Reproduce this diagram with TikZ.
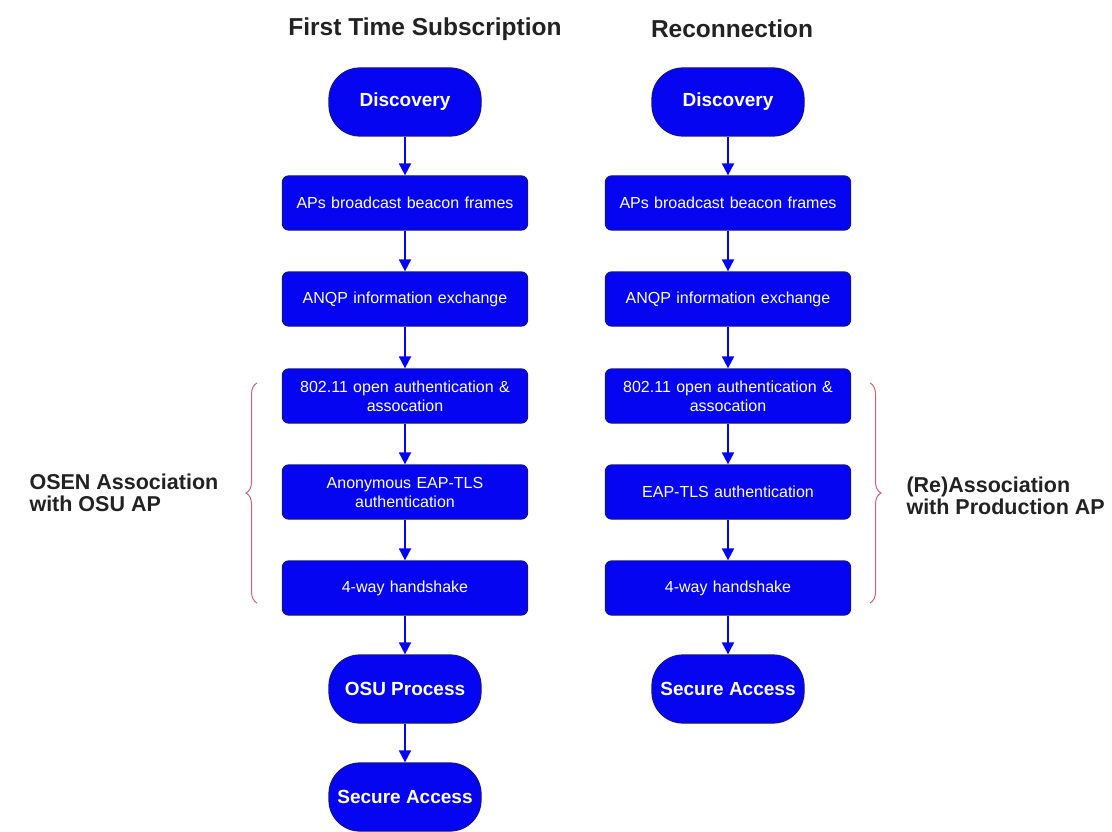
\documentclass[tikz,border=0pt]{standalone}
\usepackage{fontspec}
\setmainfont{Liberation Sans}
\usetikzlibrary{arrows.meta,decorations.pathreplacing}
\definecolor{flowblue}{HTML}{0505F2}
\definecolor{flowedge}{HTML}{10109A}
\definecolor{bracecol}{HTML}{D0607A}
\definecolor{titlegray}{HTML}{222222}
\begin{document}
\begin{tikzpicture}[x=1pt,y=-1pt,
  terminal/.style={rectangle, rounded corners=31pt, fill=flowblue, draw=flowedge, line width=1.2pt,
    minimum width=152pt, minimum height=68pt, inner sep=0pt, text=white,
    font=\fontsize{19}{22}\selectfont\bfseries},
  stepbox/.style={rectangle, rounded corners=6pt, fill=flowblue, draw=flowedge, line width=1.2pt,
    minimum width=245pt, minimum height=54pt, text=white, text width=236pt, align=center,
    inner xsep=4pt, font=\fontsize{16}{19}\selectfont},
  flow/.style={draw=flowblue, line width=1.8pt, -{Triangle[width=12pt,length=12pt]}},
  coltitle/.style={font=\fontsize{24.5}{27}\selectfont\bfseries, text=titlegray},
  sidelabel/.style={font=\fontsize{21.5}{22.5}\selectfont\bfseries, text=titlegray, align=left, anchor=west},
  bracestyle/.style={draw=bracecol, line width=1pt, decorate,
    decoration={brace, amplitude=11pt}}]
\useasboundingbox (0,0) rectangle (1112,832);

% column titles
\node[coltitle] (t1) at (425,29) {First Time Subscription};
\node[coltitle] (t2) at (732,29) {Reconnection};

% first time subscription
\node[terminal] (a0) at (405,102) {Discovery};
\node[stepbox] (a1) at (405,203) {APs broadcast beacon frames};
\node[stepbox] (a2) at (405,299) {ANQP information exchange};
\node[stepbox] (a3) at (405,396) {802.11 open authentication \&\\ assocation};
\node[stepbox] (a4) at (405,492) {Anonymous EAP-TLS\\ authentication};
\node[stepbox] (a5) at (405,588) {4-way handshake};
\node[terminal] (a6) at (405,689) {OSU Process};
\node[terminal] (a7) at (405,797) {Secure Access};

% reconnection
\node[terminal] (b0) at (728,102) {Discovery};
\node[stepbox] (b1) at (728,203) {APs broadcast beacon frames};
\node[stepbox] (b2) at (728,299) {ANQP information exchange};
\node[stepbox] (b3) at (728,396) {802.11 open authentication \&\\ assocation};
\node[stepbox] (b4) at (728,492) {EAP-TLS authentication};
\node[stepbox] (b5) at (728,588) {4-way handshake};
\node[terminal] (b6) at (728,689) {Secure Access};

% connectors
\foreach \u/\v in {a0/a1,a1/a2,a2/a3,a3/a4,a4/a5,a5/a6,a6/a7,
                   b0/b1,b1/b2,b2/b3,b3/b4,b4/b5,b5/b6}
  \draw[flow] (\u) -- (\v);

% grouping braces
\coordinate (lb1) at (257,603);
\coordinate (lb2) at (257,383);
\coordinate (rb1) at (870,383);
\coordinate (rb2) at (870,603);
\draw[bracestyle] (lb1) -- (lb2);
\draw[bracestyle] (rb1) -- (rb2);

\node[sidelabel] (la) at (26,493) {OSEN Association\\with OSU AP};
\node[sidelabel] (ra) at (903,496) {(Re)Association\\with Production AP};
\end{tikzpicture}
\end{document}
